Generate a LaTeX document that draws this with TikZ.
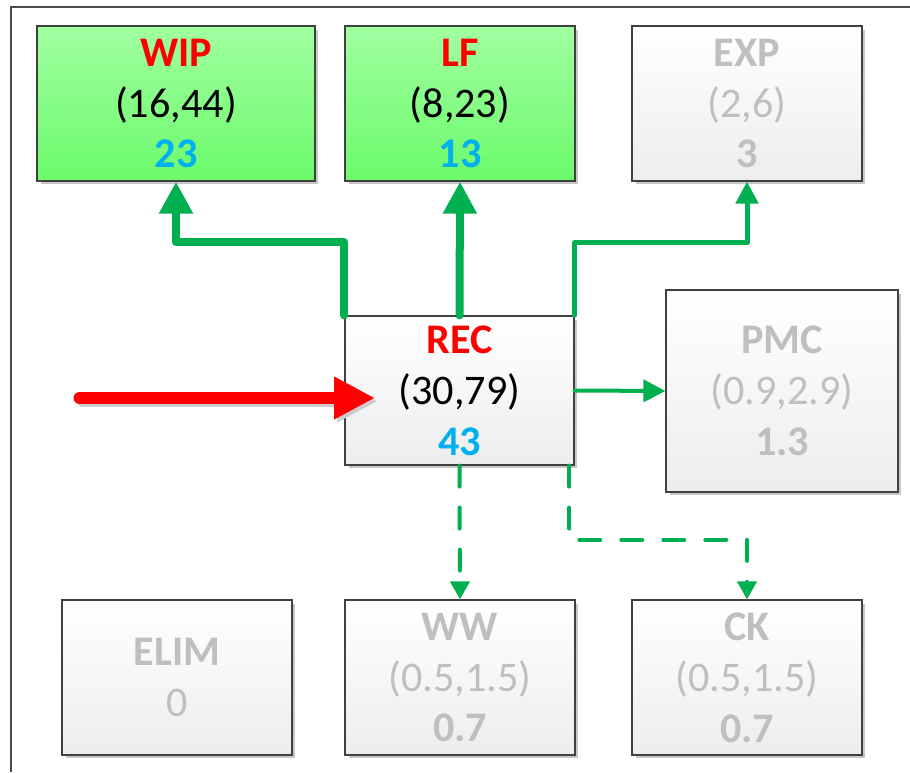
\documentclass[tikz,border=0pt]{standalone}
\usepackage{fontspec}
\setmainfont{Carlito}
\usetikzlibrary{arrows.meta,shadows}

\definecolor{flowgreen}{RGB}{0,176,80}
\definecolor{valblue}{RGB}{0,176,240}
\definecolor{dimgray}{RGB}{191,191,191}
\definecolor{boxtop}{RGB}{160,255,160}
\definecolor{boxbottom}{RGB}{108,250,108}
\newcommand{\pxu}{0.02cm}

\begin{document}
\begin{tikzpicture}[x=\pxu,y=\pxu,
  box/.style={draw=black!75,line width=0.7pt,align=center,
    font=\fontsize{24}{29}\selectfont,
    minimum width=4.6cm,minimum height=3.1cm,
    drop shadow={shadow xshift=0.07cm,shadow yshift=-0.07cm,fill=black!22,opacity=1}},
  greenbox/.style={box,top color=boxtop,bottom color=boxbottom},
  graybox/.style={box,top color=white,bottom color=black!7},
  dimbox/.style={graybox,text=dimgray},
  flow/.style={draw=flowgreen,line cap=round,line join=round}]

  \useasboundingbox (0,0) rectangle (910,772);
  \draw[black!70,line width=0.8pt] (11,0) -- (11,765) -- (910,765);

  % top row
  \node[greenbox,minimum width=5.56cm] (wip) at (176,668.5)
    {\textcolor{red}{\bfseries WIP}\\(16,44)\\\textcolor{valblue}{\bfseries 23}};
  \node[greenbox] (lf) at (460,668.5)
    {\textcolor{red}{\bfseries LF}\\(8,23)\\\textcolor{valblue}{\bfseries 13}};
  \node[dimbox] (exp) at (747,668.5)
    {\bfseries EXP\\(2,6)\\\bfseries 3};

  % middle row
  \node[graybox,minimum width=4.58cm,minimum height=2.98cm] (rec) at (459.5,381.5)
    {\textcolor{red}{\bfseries REC}\\(30,79)\\\textcolor{valblue}{\bfseries 43}};
  \node[dimbox,minimum width=4.64cm,minimum height=4.04cm] (pmc) at (782,381)
    {\bfseries PMC\\(0.9,2.9)\\\bfseries 1.3};

  % bottom row
  \node[dimbox] (elim) at (177,94.5) {\bfseries ELIM\\0};
  \node[dimbox] (ww) at (460,94.5) {\bfseries WW\\(0.5,1.5)\\\bfseries 0.7};
  \node[dimbox] (ck) at (747,94.5) {\bfseries CK\\(0.5,1.5)\\\bfseries 0.7};

  % input
  \coordinate (feed) at (80,374);
  \coordinate (feedtip) at (375,374);
  \draw[black!20,line width=0.26cm,line cap=round,-{Triangle[length=0.82cm,width=0.8cm]}]
    ([shift={(3,-3)}]feed) -- ([shift={(3,-3)}]feedtip);
  \draw[red,line width=0.26cm,line cap=round,-{Triangle[length=0.82cm,width=0.8cm]}]
    (feed) -- (feedtip);

  % outputs
  \draw[flow,line width=0.16cm,-{Triangle[length=0.64cm,width=0.64cm]}]
    (rec.north west) -- ++(0,73) -| (wip.south);
  \draw[flow,line width=0.16cm,-{Triangle[length=0.64cm,width=0.64cm]}]
    (rec.north) -- (lf.south);
  \draw[flow,line width=0.1cm,-{Triangle[length=0.44cm,width=0.44cm]}]
    (rec.north east) -- ++(0,73) -| (exp.south);
  \draw[flow,line width=0.08cm,-{Triangle[length=0.44cm,width=0.44cm]}]
    (rec.east) -- (pmc.west);
  \draw[flow,line width=0.08cm,dash pattern=on 0.42cm off 0.42cm,-{Triangle[length=0.36cm,width=0.38cm]}]
    (rec.south) -- (ww.north);
  \draw[flow,line width=0.08cm,dash pattern=on 0.42cm off 0.42cm,-{Triangle[length=0.36cm,width=0.38cm]}]
    ([xshift=-3]rec.south east) -- ++(0,-74) -| (ck.north);
\end{tikzpicture}
\end{document}
